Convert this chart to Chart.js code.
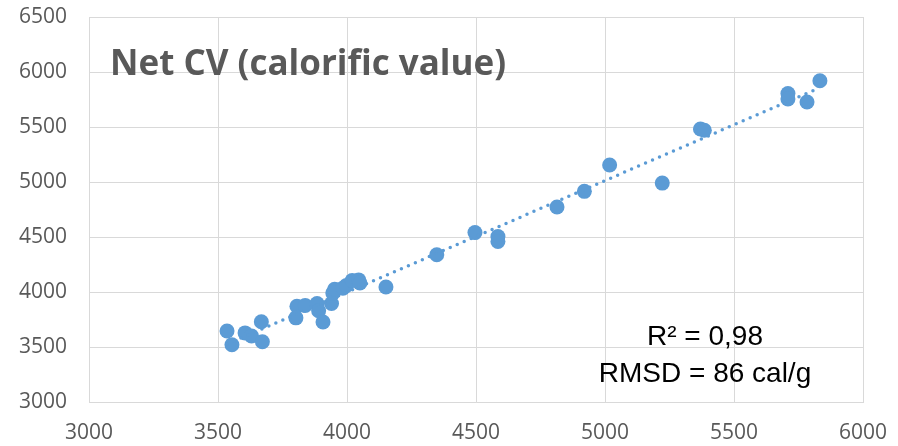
<!DOCTYPE html>
<html>
<head>
<meta charset="utf-8">
<title>Net CV (calorific value)</title>
<script src="https://cdn.jsdelivr.net/npm/chart.js@4/dist/chart.umd.min.js"></script>
<style>
  html, body { margin: 0; padding: 0; background: #ffffff; }
  #wrap { width: 898px; height: 446px; position: relative; }
</style>
</head>
<body>
<div id="wrap"><canvas id="cv"></canvas></div>
<script>
// Measured vs predicted net calorific value (cal/g)
const measuredCV = [3535, 3554, 3605, 3630, 3672, 3668, 3806, 3802, 3838, 3884, 3890, 3907,
  3940, 3945, 3952, 3984, 3998, 4020, 4045, 4050, 4151, 4348, 4496, 4585, 4585,
  4814, 4920, 5018, 5222, 5370, 5385, 5709, 5709, 5783, 5833];
const predictedCV = [3645, 3520, 3628, 3600, 3548, 3730, 3870, 3765, 3878, 3895, 3830, 3727,
  3895, 3990, 4025, 4035, 4060, 4105, 4110, 4082, 4045, 4338, 4540, 4505, 4460,
  4773, 4915, 5155, 4990, 5482, 5470, 5805, 5755, 5727, 5920];

// Linear trend line end points
const trendX = [3535, 5833];
const trendY = [3526, 5858];

// Axis ticks
const xTickValues = [3000, 3500, 4000, 4500, 5000, 5500, 6000];
const xTickLabels = ['3000', '3500', '4000', '4500', '5000', '5500', '6000'];
const yTickValues = [3000, 3500, 4000, 4500, 5000, 5500, 6000, 6500];
const yTickLabels = ['3000', '3500', '4000', '4500', '5000', '5500', '6000', '6500'];

const chartTitle = 'Net CV (calorific value)';
const statLines = ['R\u00B2 = 0,98', 'RMSD = 86 cal/g'];

const points = measuredCV.map((x, i) => ({ x: x, y: predictedCV[i] }));
const trend = trendX.map((x, i) => ({ x: x, y: trendY[i] }));

const BLUE = '#5B9BD5';
const GRID = '#D9D9D9';
const TEXT = '#595959';

const labelFor = (values, labels) => (v) => {
  const k = values.indexOf(v);
  return k >= 0 ? labels[k] : '';
};

// Title and fit statistics drawn inside the plot area
const textOverlay = {
  id: 'textOverlay',
  afterDraw(chart) {
    const ctx = chart.ctx;
    const a = chart.chartArea;
    ctx.save();
    ctx.fillStyle = TEXT;
    ctx.font = 'bold 35px "Open Sans", sans-serif';
    ctx.textAlign = 'left';
    ctx.textBaseline = 'alphabetic';
    ctx.fillText(chartTitle, a.left + 21, a.top + 58);

    ctx.fillStyle = '#000000';
    ctx.font = '28px "Liberation Sans", Arial, sans-serif';
    ctx.textAlign = 'center';
    ctx.fillText(statLines[0], a.left + 616, a.top + 328);
    ctx.fillText(statLines[1], a.left + 616, a.top + 365);
    ctx.restore();
  }
};

new Chart(document.getElementById('cv'), {
  type: 'scatter',
  data: {
    datasets: [
      {
        label: 'Trend',
        data: trend,
        showLine: true,
        borderColor: BLUE,
        borderWidth: 3.5,
        borderDash: [0, 7.6],
        borderCapStyle: 'round',
        pointRadius: 0,
        pointHoverRadius: 0,
        fill: false,
        order: 0
      },
      {
        label: 'Net CV',
        data: points,
        backgroundColor: BLUE,
        borderColor: BLUE,
        borderWidth: 0,
        pointRadius: 7.5,
        pointHoverRadius: 7.5,
        order: 1
      }
    ]
  },
  options: {
    responsive: true,
    maintainAspectRatio: false,
    animation: false,
    events: [],
    layout: { padding: { top: 17, right: 35, left: 0, bottom: 0 } },
    plugins: {
      legend: { display: false },
      tooltip: { enabled: false },
      title: { display: false }
    },
    scales: {
      x: {
        type: 'linear',
        min: 3000,
        max: 6000,
        afterFit(scale) {
          scale.height = 44;
          scale.paddingLeft = 0;
          scale.paddingRight = 0;
        },
        afterBuildTicks(scale) { scale.ticks = xTickValues.map(v => ({ value: v })); },
        grid: { color: GRID, lineWidth: 1, drawTicks: false },
        border: { display: true, color: GRID, width: 1 },
        ticks: {
          padding: 18,
          color: TEXT,
          font: { family: '"Open Sans", sans-serif', size: 21 },
          maxRotation: 0,
          autoSkip: false,
          callback: labelFor(xTickValues, xTickLabels)
        }
      },
      y: {
        type: 'linear',
        min: 3000,
        max: 6500,
        afterFit(scale) {
          scale.width = 89;
          scale.paddingTop = 0;
          scale.paddingBottom = 0;
        },
        afterBuildTicks(scale) { scale.ticks = yTickValues.map(v => ({ value: v })); },
        grid: { color: GRID, lineWidth: 1, drawTicks: false },
        border: { display: true, color: GRID, width: 1 },
        ticks: {
          padding: 22,
          color: TEXT,
          font: { family: '"Open Sans", sans-serif', size: 21 },
          autoSkip: false,
          callback: labelFor(yTickValues, yTickLabels)
        }
      }
    }
  },
  plugins: [textOverlay]
});
</script>
</body>
</html>
